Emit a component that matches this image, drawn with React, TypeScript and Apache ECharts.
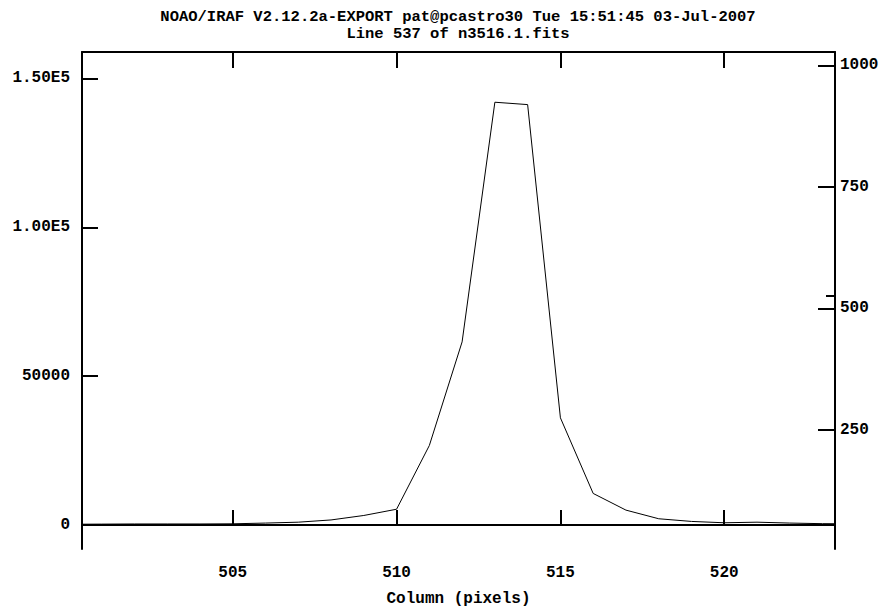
import React, { useEffect, useRef } from "react";
import * as echarts from "echarts";

const columns = [500, 501, 502, 503, 504, 505, 506, 507, 508, 509, 510, 511, 512, 513, 514, 515, 516, 517, 518, 519, 520, 521, 522, 523, 524];
const counts = [250, 300, 350, 350, 350, 400, 650, 950, 1700, 3200, 5300, 26700, 61500, 142000, 141200, 36000, 10600, 5000, 2100, 1200, 750, 950, 650, 450, 400];

const leftTicks = [0, 50000, 100000, 150000];
const leftTickLabels = ["0", "50000", "1.00E5", "1.50E5"];
const rightTicks = [250, 500, 750, 1000];
const rightStrayTick = [527];
const bottomTicks = [505, 510, 515, 520];
const titleLines = [
  "NOAO/IRAF V2.12.2a-EXPORT pat@pcastro30 Tue 15:51:45 03-Jul-2007",
  "Line 537 of n3516.1.fits",
];
const xAxisName = "Column (pixels)";

const X_MIN = 500.4;
const X_MAX = 523.38;
const Y_MIN = -8060;
const Y_MAX = 158870;
const R_MIN = 4.9;
const R_MAX = 1027.6;

const FONT = "Liberation Mono";

export default function App() {
  const ref = useRef<HTMLDivElement>(null);
  useEffect(() => {
    if (!ref.current) return;
    const chart = echarts.init(ref.current, undefined, { renderer: "svg" });
    const axisLine = { show: true, lineStyle: { color: "#000", width: 2 } };
    const labelStyle = { color: "#000", fontFamily: FONT, fontWeight: "bold" as const, fontSize: 16 };
    chart.setOption({
      animation: false,
      backgroundColor: "#fff",
      title: [
        {
          text: titleLines[0],
          left: 458,
          top: 9,
          padding: 0,
          textAlign: "center",
          textStyle: { ...labelStyle, fontSize: 15.5, lineHeight: 16 },
        },
        {
          text: titleLines[1],
          left: 458,
          top: 26,
          padding: 0,
          textAlign: "center",
          textStyle: { ...labelStyle, fontSize: 15.5, lineHeight: 16 },
        },
      ],
      grid: { left: 82, right: 54, top: 52, bottom: 61, containLabel: false, outerBoundsMode: "none" },
      xAxis: [
        {
          type: "value",
          position: "bottom",
          min: X_MIN,
          max: X_MAX,
          name: xAxisName,
          nameLocation: "middle",
          nameGap: 42,
          nameTextStyle: labelStyle,
          axisLine,
          axisTick: { show: true, inside: true, length: 15, customValues: bottomTicks, lineStyle: { color: "#000", width: 2 } },
          axisLabel: { ...labelStyle, margin: 16, customValues: bottomTicks },
          splitLine: { show: false },
        },
        {
          type: "value",
          position: "top",
          min: X_MIN,
          max: X_MAX,
          axisLine,
          axisTick: { show: true, inside: true, length: 16, customValues: bottomTicks, lineStyle: { color: "#000", width: 2 } },
          axisLabel: { show: false },
          splitLine: { show: false },
        },
      ],
      yAxis: [
        {
          type: "value",
          position: "left",
          min: Y_MIN,
          max: Y_MAX,
          axisLine,
          axisTick: { show: true, inside: true, length: 16, customValues: leftTicks, lineStyle: { color: "#000", width: 2 } },
          axisLabel: {
            ...labelStyle,
            margin: 12,
            customValues: leftTicks,
            formatter: (v: number) => {
              const i = leftTicks.indexOf(v);
              return i >= 0 ? leftTickLabels[i] : "";
            },
          },
          splitLine: { show: false },
        },
        {
          type: "value",
          position: "right",
          min: R_MIN,
          max: R_MAX,
          axisLine,
          axisTick: { show: true, inside: true, length: 17, customValues: rightTicks, lineStyle: { color: "#000", width: 2 } },
          axisLabel: { ...labelStyle, margin: 5, customValues: rightTicks, formatter: (v: number) => String(v) },
          splitLine: { show: false },
        },
        {
          type: "value",
          position: "right",
          min: R_MIN,
          max: R_MAX,
          axisLine: { show: false },
          axisTick: { show: true, inside: true, length: 9, customValues: rightStrayTick, lineStyle: { color: "#000", width: 2 } },
          axisLabel: { show: false },
          splitLine: { show: false },
        },
      ],
      series: [
        {
          type: "line",
          xAxisIndex: 0,
          yAxisIndex: 0,
          data: columns.map((c, i) => [c, counts[i]]),
          showSymbol: false,
          symbol: "none",
          clip: true,
          lineStyle: { color: "#000", width: 1 },
        },
      ],
    });
    return () => chart.dispose();
  }, []);
  return <div ref={ref} style={{ position: "fixed", left: 0, top: 0, width: 889, height: 610 }} />;
}
